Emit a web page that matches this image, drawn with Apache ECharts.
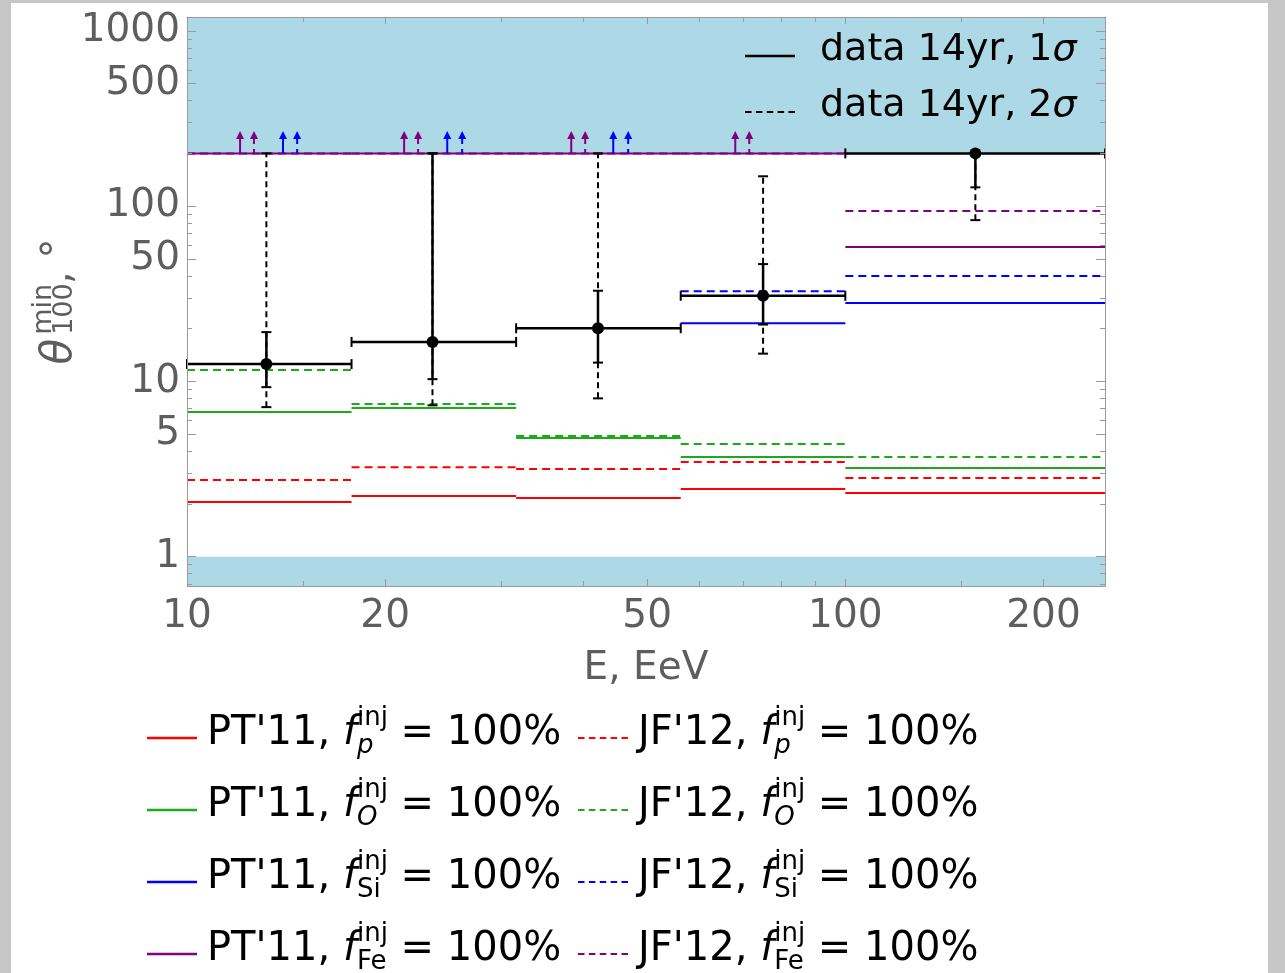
<!DOCTYPE html>
<html><head><meta charset="utf-8">
<script src="https://cdn.jsdelivr.net/npm/echarts@6/dist/echarts.min.js"></script>
<style>
html,body{margin:0;padding:0;background:#c6c6c6;overflow:hidden;}
#paper{position:absolute;left:11px;top:3px;width:1257px;height:970px;background:#fff;}
#chart{position:absolute;left:0;top:0;width:1285px;height:973px;}
</style></head><body>
<div id="paper"></div><div id="chart"></div>
<script>
// ---------------- data ----------------
const binEdges = [10, 17.78, 31.62, 56.23, 100, 248];
const dataE     = [13.2, 23.6, 42.1, 75.0, 157.6];
const dataTheta = [12.55, 16.8, 20.1, 30.8, 200];
const sig1Lo = [9.27, 10.3, 12.8, 21.1, 128];
const sig1Hi = [19.1, 200, 32.9, 46.7, 200];
const sig2Lo = [7.13, 7.3, 8.0, 14.4, 83.2];
const sig2Hi = [200, 200, 200, 148, 200];

const ptP  = [2.05, 2.22, 2.16, 2.43, 2.31];
const jfP  = [2.74, 3.24, 3.16, 3.47, 2.81];
const ptO  = [6.68, 7.05, 4.75, 3.70, 3.20];
const jfO  = [11.6, 7.42, 4.88, 4.39, 3.70];
const ptSi = [null, null, null, 21.5, 28.0];
const jfSi = [null, null, null, 32.7, 39.9];
const ptFe = [200, 200, 200, 200, 58.5];
const jfFe = [200, 200, 200, 200, 93.7];

const limitValue = 200;   // lower limits drawn as arrows from here
const arrowTip = 268;
const ptFeArrowE = [12.04, 21.37, 38.34, 68.05];
const jfFeArrowE = [12.64, 22.44, 40.26, 71.46];
const ptSiArrowE = [13.99, 24.85, 44.41];
const jfSiArrowE = [14.70, 26.18, 46.79];

const xMin = 10, xMax = 248, yMin = 0.68, yMax = 1200;
const bandRanges = [[yMin, 1], [limitValue, yMax]];

const yLabelValues = [1, 5, 10, 50, 100, 500, 1000];
const yMajorTicks  = [1, 5, 10, 50, 100, 500, 1000];
const yMinorTicks  = [0.7, 0.8, 0.9, 2, 3, 4, 6, 7, 8, 9, 20, 30, 40, 60, 70, 80, 90, 200, 300, 400, 600, 700, 800, 900];
const xLabelValues = [10, 20, 50, 100, 200];
const xMajorTicks  = [20, 50, 100, 200];
const xMinorTicks  = [15, 30, 40, 60, 70, 80, 90, 150];

// ---------------- styles ----------------
const FAM = 'DejaVu Sans';
const RED = '#ff0000', GREEN = '#1aaa1a', BLUE = '#0000ff', VIOLET = '#800080';
const DASH = [8, 5];
const dashIcon = 'path://M0,0h6v2h-6z M10,0h6v2h-6z M20,0h6v2h-6z M30,0h6v2h-6z M40,0h6v2h-6z';

function stepData(vals) {
  const d = [];
  vals.forEach((v, i) => {
    if (v == null) return;
    d.push([binEdges[i], v], [binEdges[i + 1], v], [binEdges[i + 1], '-']);
  });
  return d;
}

const models = [
  {name: "PT'11 p",  vals: ptP,  color: RED,    dash: false, sub: 'p',  it: true},
  {name: "JF'12 p",  vals: jfP,  color: RED,    dash: true,  sub: 'p',  it: true},
  {name: "PT'11 O",  vals: ptO,  color: GREEN,  dash: false, sub: 'O',  it: true},
  {name: "JF'12 O",  vals: jfO,  color: GREEN,  dash: true,  sub: 'O',  it: true},
  {name: "PT'11 Si", vals: ptSi, color: BLUE,   dash: false, sub: 'Si', it: false},
  {name: "JF'12 Si", vals: jfSi, color: BLUE,   dash: true,  sub: 'Si', it: false},
  {name: "PT'11 Fe", vals: ptFe, color: VIOLET, dash: false, sub: 'Fe', it: false},
  {name: "JF'12 Fe", vals: jfFe, color: VIOLET, dash: true,  sub: 'Fe', it: false}
];

const series = [];

// shaded excluded regions
series.push({
  type: 'custom', name: 'bands', z: 1, silent: true,
  data: bandRanges.map(r => [xMin, r[0], xMax, r[1]]),
  encode: {x: [0, 2], y: [1, 3]},
  renderItem(params, api) {
    const p0 = api.coord([api.value(0), api.value(1)]);
    const p1 = api.coord([api.value(2), api.value(3)]);
    return {type: 'rect', shape: {x: p0[0], y: p1[1], width: p1[0] - p0[0], height: p0[1] - p1[1]},
            style: {fill: '#add8e6'}};
  }
});

models.forEach(m => {
  series.push({
    type: 'line', name: m.name, z: 2, symbol: 'none', connectNulls: false,
    data: stepData(m.vals),
    lineStyle: {color: m.color, width: 2, type: m.dash ? DASH : 'solid'},
    itemStyle: {color: m.color}
  });
});

function arrowSeries(es, color, dashed) {
  return {
    type: 'custom', z: 3, silent: true,
    data: es.map(e => [e, limitValue, arrowTip]),
    encode: {x: 0, y: [1, 2]},
    renderItem(params, api) {
      const p0 = api.coord([api.value(0), api.value(1)]);
      const p1 = api.coord([api.value(0), api.value(2)]);
      const hh = 8, hw = 4;
      return {type: 'group', children: [
        {type: 'line', shape: {x1: p1[0], y1: p1[1] + hh - 1, x2: p0[0], y2: p0[1]},
         style: {stroke: color, lineWidth: 2, lineDash: dashed ? [6, 5] : null}},
        {type: 'polygon', shape: {points: [[p1[0], p1[1]], [p1[0] - hw, p1[1] + hh], [p1[0] + hw, p1[1] + hh]]},
         style: {fill: color}}
      ]};
    }
  };
}
series.push(arrowSeries(ptFeArrowE, VIOLET, false));
series.push(arrowSeries(jfFeArrowE, VIOLET, true));
series.push(arrowSeries(ptSiArrowE, BLUE, false));
series.push(arrowSeries(jfSiArrowE, BLUE, true));

const errData = dataE.map((e, i) => [e, dataTheta[i], sig1Lo[i], sig1Hi[i], sig2Lo[i], sig2Hi[i], binEdges[i], binEdges[i + 1]]);
const K = '#000';
const L = (x1, y1, x2, y2, w, dash) => ({type: 'line', shape: {x1, y1, x2, y2}, style: {stroke: K, lineWidth: w, lineDash: dash || null}});

series.push({
  type: 'custom', name: 'data 14yr, 2σ', z: 4, itemStyle: {color: K},
  data: errData, encode: {x: 0, y: 1},
  renderItem(params, api) {
    const E = api.value(0);
    const cx = api.coord([E, api.value(1)])[0];
    const yl = api.coord([E, api.value(4)])[1], yh = api.coord([E, api.value(5)])[1];
    const c = 5;
    return {type: 'group', children: [
      L(cx, yl, cx, yh, 2, [6, 4]), L(cx - c, yl, cx + c, yl, 2), L(cx - c, yh, cx + c, yh, 2)
    ]};
  }
});
series.push({
  type: 'custom', name: 'data 14yr, 1σ', z: 5, itemStyle: {color: K},
  data: errData, encode: {x: 0, y: 1},
  renderItem(params, api) {
    const E = api.value(0), T = api.value(1);
    const [cx, cy] = api.coord([E, T]);
    const yl = api.coord([E, api.value(2)])[1], yh = api.coord([E, api.value(3)])[1];
    const xl = api.coord([api.value(6), T])[0], xr = api.coord([api.value(7), T])[0];
    const c = 5;
    return {type: 'group', children: [
      L(cx, yl, cx, yh, 2.5), L(cx - c, yl, cx + c, yl, 2), L(cx - c, yh, cx + c, yh, 2),
      L(xl, cy, xr, cy, 2.5), L(xl, cy - c, xl, cy + c, 2), L(xr, cy - c, xr, cy + c, 2),
      {type: 'circle', shape: {cx, cy, r: 6}, style: {fill: K}}
    ]};
  }
});

// ---------------- axes ----------------
const AX = '#9a9a9a', LAB = '#5e5e5e';
const fmt = v => String(Math.round(v * 1000) / 1000);
function yAx(pos, ticks, len, label, line, extra) {
  return Object.assign({
    type: 'log', logBase: 10, min: yMin, max: yMax, position: pos, z: 10,
    axisLine: {show: line, lineStyle: {color: AX, width: 1}},
    axisTick: {show: true, inside: true, length: len, customValues: ticks, lineStyle: {color: AX, width: 1}},
    axisLabel: {show: label, customValues: yLabelValues, formatter: fmt, color: LAB, fontFamily: FAM, fontSize: 39, margin: 7},
    splitLine: {show: false}, minorTick: {show: false}
  }, extra || {});
}
function xAx(pos, ticks, len, label, line, extra) {
  return Object.assign({
    type: 'log', logBase: 10, min: xMin, max: xMax, position: pos, z: 10,
    axisLine: {show: line, lineStyle: {color: AX, width: 1}},
    axisTick: {show: true, inside: true, length: len, customValues: ticks, lineStyle: {color: AX, width: 1}},
    axisLabel: {show: label, customValues: xLabelValues, formatter: fmt, color: LAB, fontFamily: FAM, fontSize: 39, margin: 11},
    splitLine: {show: false}, minorTick: {show: false}
  }, extra || {});
}

const yName = '{t|θ}{sb|100}{sp|min}{n|, °}';
const yAxes = [
  yAx('left', yMajorTicks, 9, true, true, {
    name: yName, nameLocation: 'middle', nameGap: 97, nameRotate: 90, nameMoveOverlap: false,
    nameTextStyle: {color: LAB, fontFamily: FAM, fontSize: 40, lineHeight: 60, rich: {
      t:  {fontFamily: FAM, fontSize: 42, fontStyle: 'italic', color: LAB, lineHeight: 60, align: 'left', padding: [0, 4, 0, 0]},
      sb: {fontFamily: FAM, fontSize: 27, color: LAB, verticalAlign: 'bottom', align: 'left', width: 0, lineHeight: 30, padding: [0, 0, 12, 0]},
      sp: {fontFamily: FAM, fontSize: 27, color: LAB, verticalAlign: 'top', align: 'left', lineHeight: 30},
      n:  {fontFamily: FAM, fontSize: 40, color: LAB, align: 'left', lineHeight: 60}
    }}
  }),
  yAx('left', yMinorTicks, 5, false, false),
  yAx('right', yMajorTicks, 9, false, true),
  yAx('right', yMinorTicks, 5, false, false)
];
const xAxes = [
  xAx('bottom', xMajorTicks, 7, true, true, {
    name: 'E, EeV', nameLocation: 'middle', nameGap: 63, nameMoveOverlap: false,
    nameTextStyle: {color: LAB, fontFamily: FAM, fontSize: 39}
  }),
  xAx('bottom', xMinorTicks, 5, false, false),
  xAx('top', xMajorTicks, 7, false, true),
  xAx('top', xMinorTicks, 5, false, false)
];

// ---------------- legends ----------------
function legendLabel(m) {
  const pre = m.name.startsWith('PT') ? "PT'11, " : "JF'12, ";
  return pre + '{f|f}{' + (m.it ? 'sbi' : 'sb') + '|' + m.sub + '}{sp|inj} = 100%';
}
const labelMap = {};
models.forEach(m => { labelMap[m.name] = legendLabel(m); });
const legRich = {
  f:   {fontFamily: FAM, fontSize: 40, fontStyle: 'italic', color: '#000', lineHeight: 62},
  sp:  {fontFamily: FAM, fontSize: 26, color: '#000', verticalAlign: 'top', align: 'left', lineHeight: 30, padding: [2, 0, 0, 0]},
  sb:  {fontFamily: FAM, fontSize: 26, color: '#000', verticalAlign: 'bottom', align: 'left', width: 0, lineHeight: 30, padding: [0, 0, 6, 0]},
  sbi: {fontFamily: FAM, fontSize: 26, fontStyle: 'italic', color: '#000', verticalAlign: 'bottom', align: 'left', width: 0, lineHeight: 30, padding: [0, 0, 6, 0]}
};
function bottomLegend(left, names) {
  return {
    type: 'plain', orient: 'vertical', left, top: 703, height: 290, padding: 0,
    itemWidth: 50, itemHeight: 2.5, itemGap: 2,
    selectedMode: false,
    data: names.map(n => {
      const m = models.find(q => q.name === n);
      return {name: n, icon: m.dash ? dashIcon : 'rect', itemStyle: {color: m.color, borderWidth: 0}};
    }),
    formatter: n => labelMap[n],
    textStyle: {fontFamily: FAM, fontSize: 40, color: '#000', lineHeight: 62, padding: [0, 0, 8, 5], rich: legRich}
  };
}
const legends = [
  bottomLegend(147, models.filter(m => !m.dash).map(m => m.name)),
  bottomLegend(578, models.filter(m => m.dash).map(m => m.name)),
  {
    type: 'plain', orient: 'vertical', left: 745, top: 28, padding: 0,
    itemWidth: 50, itemHeight: 2.5, itemGap: 0,
    selectedMode: false,
    data: [
      {name: 'data 14yr, 1σ', icon: 'rect', itemStyle: {color: K, borderWidth: 0}},
      {name: 'data 14yr, 2σ', icon: dashIcon, itemStyle: {color: K, borderWidth: 0}}
    ],
    formatter: n => n.replace('σ', '{s|σ}'),
    textStyle: {fontFamily: FAM, fontSize: 38, color: '#000', lineHeight: 44, padding: [0, 0, 12, 20],
      rich: {s: {fontFamily: FAM, fontSize: 38, fontStyle: 'italic', color: '#000', lineHeight: 44}}}
  }
];

const chart = echarts.init(document.getElementById('chart'), null, {renderer: 'canvas'});
chart.setOption({
  animation: false,
  backgroundColor: 'transparent',
  grid: {left: 187, top: 17, right: 180, bottom: 387, containLabel: false},
  xAxis: xAxes,
  yAxis: yAxes,
  legend: legends,
  series: series
});
</script>
</body></html>
